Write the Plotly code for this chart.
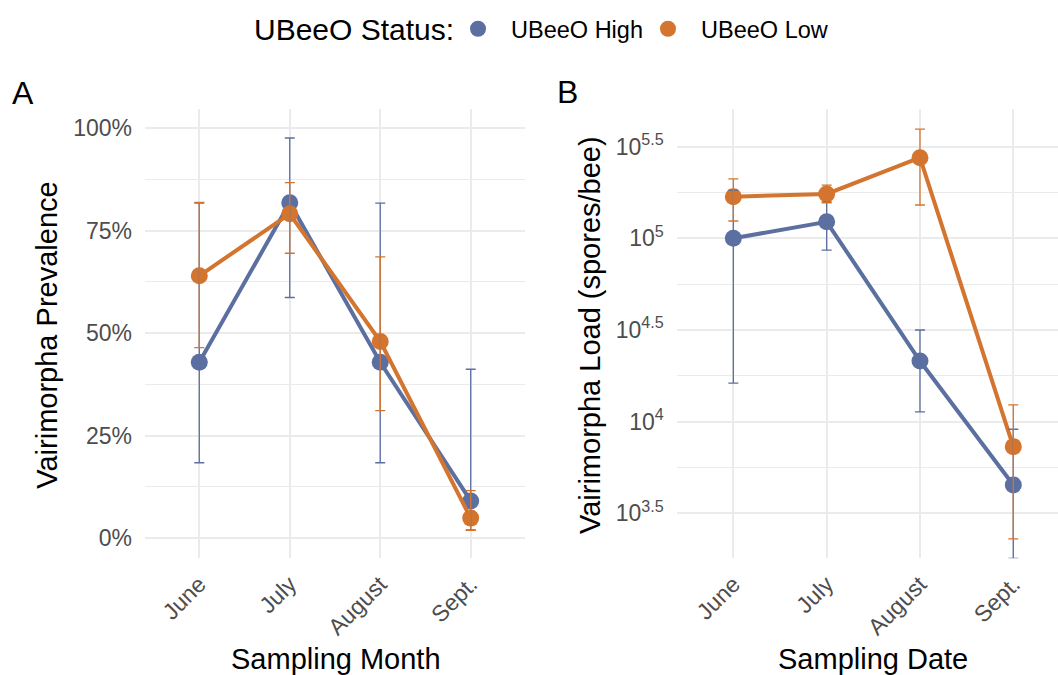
import plotly.graph_objects as go

# ---------------- data ----------------
months = ["June", "July", "August", "Sept."]
groups = ["UBeeO High", "UBeeO Low"]

# Panel A: Vairimorpha prevalence (fraction) with 95% CI
prev_high = [0.429, 0.818, 0.429, 0.091]
prev_high_lo = [0.184, 0.587, 0.184, 0.020]
prev_high_hi = [0.817, 0.976, 0.817, 0.412]
prev_low = [0.640, 0.791, 0.480, 0.049]
prev_low_lo = [0.465, 0.695, 0.311, 0.019]
prev_low_hi = [0.819, 0.867, 0.686, 0.116]

# Panel B: Vairimorpha load (spores/bee) with CI
load_high = [100000, 123000, 21400, 4510]
load_high_lo = [16200, 86300, 11300, 1795]
load_high_hi = [183000, 158000, 31600, 9080]
load_low = [168700, 174600, 275400, 7300]
load_low_lo = [124300, 156300, 152000, 2290]
load_low_hi = [211000, 195000, 394500, 12330]

prev_ticks = [0, 0.25, 0.5, 0.75, 1.0]
prev_minor = [0.125, 0.375, 0.625, 0.875]
load_ticks = [10 ** 3.5, 10 ** 4, 10 ** 4.5, 10 ** 5, 10 ** 5.5]
load_ticktext = ["10<sup>3.5</sup>", "10<sup>4</sup>", "10<sup>4.5</sup>",
                 "10<sup>5</sup>", "10<sup>5.5</sup>"]
load_minor = [10 ** 3.75, 10 ** 4.25, 10 ** 4.75, 10 ** 5.25]

# ---------------- style ----------------
W, H = 1058, 675
FONT = "Liberation Sans, Arial, Helvetica, sans-serif"
COL = {"UBeeO High": "#5B6FA0", "UBeeO Low": "#D3752F"}
GRID = "#EBEBEB"
TICKCOL = "#4D4D4D"


def px_x(p):
    return p / W


def px_y(p):
    return 1 - p / H


fig = go.Figure()

panels = [
    ("x", "y", {"UBeeO High": (prev_high, prev_high_lo, prev_high_hi),
                "UBeeO Low": (prev_low, prev_low_lo, prev_low_hi)}),
    ("x2", "y2", {"UBeeO High": (load_high, load_high_lo, load_high_hi),
                  "UBeeO Low": (load_low, load_low_lo, load_low_hi)}),
]

for xa, ya, data in panels:
    # lines + points
    for g in groups:
        vals, lo, hi = data[g]
        fig.add_trace(go.Scatter(
            x=months, y=vals, xaxis=xa, yaxis=ya, mode="lines+markers",
            line=dict(color=COL[g], width=4),
            marker=dict(color=COL[g], size=17),
            showlegend=False, hoverinfo="skip"))
    # error bars on top
    for g in groups:
        vals, lo, hi = data[g]
        fig.add_trace(go.Scatter(
            x=months, y=vals, xaxis=xa, yaxis=ya, mode="markers",
            marker=dict(color=COL[g], size=1, opacity=0),
            error_y=dict(type="data", symmetric=False,
                         array=[h - v for h, v in zip(hi, vals)],
                         arrayminus=[v - l for v, l in zip(vals, lo)],
                         color=COL[g], thickness=1.3, width=5),
            showlegend=False, hoverinfo="skip"))

# legend entries
NB = "\u00a0\u00a0"
for g in groups:
    fig.add_trace(go.Scatter(
        x=[None], y=[None], mode="markers", name=NB + g,
        marker=dict(color=COL[g], size=20), showlegend=True))

axis_common = dict(showgrid=True, gridcolor=GRID, gridwidth=2, zeroline=False,
                   showline=False, ticks="", automargin=False,
                   tickfont=dict(family=FONT, size=23, color=TICKCOL))

fig.update_layout(
    width=W, height=H,
    margin=dict(l=0, r=0, t=0, b=0),
    plot_bgcolor="white", paper_bgcolor="white",
    font=dict(family=FONT, color="black"),
    xaxis=dict(axis_common, domain=[px_x(145), px_x(525)], type="category",
               categoryorder="array", categoryarray=months,
               range=[-0.6, 3.6], tickangle=-45, anchor="y",
               ticklabelstandoff=7),
    yaxis=dict(axis_common, domain=[px_y(558.3), px_y(109.3)],
               range=[-0.049, 1.046], tickvals=prev_ticks, tickformat=".0%",
               anchor="x", ticklabelstandoff=12,
               minor=dict(tickvals=prev_minor, showgrid=True, gridcolor=GRID,
                          gridwidth=1)),
    xaxis2=dict(axis_common, domain=[px_x(676.7), 1.0], type="category",
                categoryorder="array", categoryarray=months,
                range=[-0.607, 3.479], tickangle=-45, anchor="y2",
                ticklabelstandoff=7),
    yaxis2=dict(axis_common, domain=[px_y(558.3), px_y(109.3)], type="log",
                range=[3.254, 5.704], tickvals=load_ticks,
                ticktext=load_ticktext, anchor="x2", ticklabelstandoff=12,
                minor=dict(tickvals=load_minor, showgrid=True, gridcolor=GRID,
                           gridwidth=1)),
    legend=dict(orientation="h", x=px_x(458), xanchor="left",
                y=px_y(29), yanchor="middle",
                font=dict(family=FONT, size=23.5, color="black"),
                bgcolor="rgba(0,0,0,0)", itemwidth=30),
    showlegend=True,
)

annotations = [
    dict(text="UBeeO Status:", x=px_x(354), y=px_y(30), font=dict(size=30)),
    dict(text="A", x=px_x(23), y=px_y(93), font=dict(size=32)),
    dict(text="B", x=px_x(567), y=px_y(92), font=dict(size=32)),
    dict(text="Vairimorpha Prevalence", x=px_x(46.7), y=px_y(335),
         textangle=-90, font=dict(size=29)),
    dict(text="Vairimorpha Load (spores/bee)", x=px_x(590), y=px_y(335),
         textangle=-90, font=dict(size=29)),
    dict(text="Sampling Month", x=px_x(335.5), y=px_y(659), font=dict(size=29)),
    dict(text="Sampling Date", x=px_x(873), y=px_y(659), font=dict(size=29)),
]
for a in annotations:
    a.update(xref="paper", yref="paper", showarrow=False,
             xanchor="center", yanchor="middle")
    a["font"].update(family=FONT, color="black")
fig.update_layout(annotations=annotations)

fig.write_html("out.html", config={"displayModeBar": False},
               post_script="document.body.style.margin='0';document.body.style.overflow='hidden';")
